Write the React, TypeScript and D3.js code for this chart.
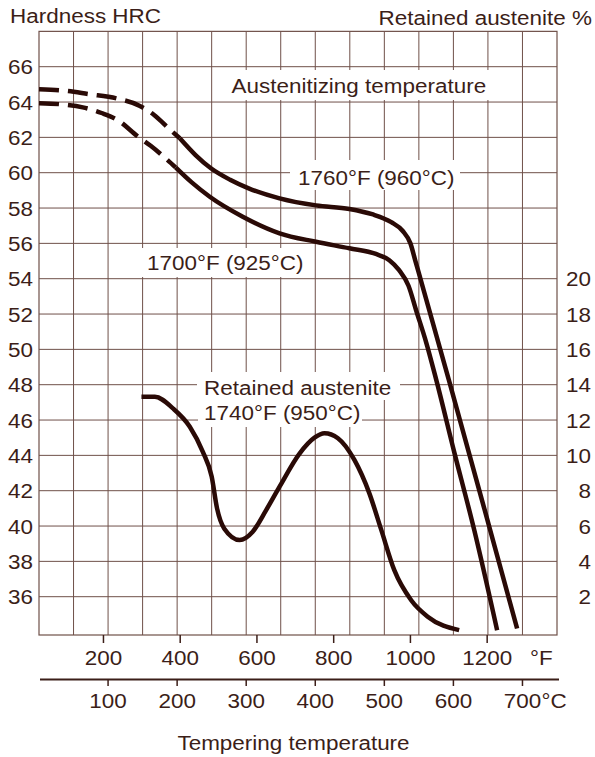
import React from "react";
import * as d3 from "d3";

// ---- data (°F, HRC) ----
const h1760Dashed: [number, number][] = [
  [32, 64.72], [108, 64.62], [160, 64.45], [235, 64.2], [295, 63.78], [332, 63.27], [373, 62.45], [399, 61.95],
];
const h1760Solid: [number, number][] = [
  [399, 61.95], [440, 61.0], [480, 60.25], [530, 59.6], [580, 59.1], [659, 58.55], [754, 58.15], [841, 57.95],
  [900, 57.65], [950, 57.2], [980, 56.7], [1000, 56.0], [1013, 55.0], [1028, 53.85], [1101, 48.2],
  [1210, 39.6], [1278, 34.2],
];
const h1700Dashed: [number, number][] = [
  [32, 63.93], [100, 63.85], [146, 63.7], [195, 63.38], [237, 62.98], [288, 62.08], [323, 61.52], [355, 60.95], [388, 60.3],
];
const h1700Solid: [number, number][] = [
  [388, 60.3], [430, 59.45], [477, 58.64], [563, 57.51], [659, 56.57], [754, 56.09], [841, 55.72], [910, 55.4],
  [945, 55.05], [970, 54.5], [995, 53.6], [1015, 52.2], [1041, 50.4], [1067, 48.3], [1114, 44.2], [1166, 39.8], [1226, 34.1],
];
// retained austenite (°F, %)
const ra1740: [number, number][] = [
  [299, 13.32], [334, 13.32], [381, 12.66], [425, 11.62], [459, 10.2], [482, 8.8], [496, 7.0], [515, 5.85],
  [555, 5.21], [589, 5.68], [624, 6.9], [659, 8.23], [711, 10.1], [750, 11.0], [776, 11.25], [811, 10.97],
  [854, 9.74], [893, 7.85], [924, 5.78], [958, 3.5], [1002, 1.8], [1045, 0.87], [1127, 0.11],
];

const hrcTicks = [36, 38, 40, 42, 44, 46, 48, 50, 52, 54, 56, 58, 60, 62, 64, 66];
const raTicks = [2, 4, 6, 8, 10, 12, 14, 16, 18, 20];
const fTicks = [200, 400, 600, 800, 1000, 1200];
const cTicks = [100, 200, 300, 400, 500, 600, 700];
const cGrid = [50, 100, 150, 200, 250, 300, 350, 400, 450, 500, 550, 600, 650, 700];

const TEXT = "#3b1e18";
const LINE = "#2a0a06";
const GRID = "#6f5049";
const FONT = "'Liberation Sans', Arial, sans-serif";
const FS = 21;
const SX = 1.07;

const c2f = (c: number) => c * 9 / 5 + 32;
const x = d3.scaleLinear().domain([32, c2f(750)]).range([39, 557]);
const y = d3.scaleLinear().domain([36, 66]).range([596.7, 66.7]);
const raToHrc = (r: number) => r + 34;
const top = y(68);
const bottom = 635;

const T = ({ px, py, anchor = "start", children }: any) => (
  <text
    transform={`translate(${px},${py}) scale(${SX},1)`}
    textAnchor={anchor}
    fontFamily={FONT}
    fontSize={FS}
    fill={TEXT}
  >
    {children}
  </text>
);

const line = d3
  .line<[number, number]>()
  .x((d) => x(d[0]))
  .y((d) => y(d[1]))
  .curve(d3.curveMonotoneX);
const raLine = d3
  .line<[number, number]>()
  .x((d) => x(d[0]))
  .y((d) => y(raToHrc(d[1])))
  .curve(d3.curveMonotoneX);

export default function App() {
  const boxes = [
    [224, 70, 492, 100],
    [290, 160, 460, 190],
    [139, 248, 311, 277],
    [197, 372, 400, 400],
    [198, 400, 362, 427],
  ];
  return (
    <svg width={595} height={757} style={{ position: "absolute", left: 0, top: 0, background: "#fff" }}>
      <rect x={0} y={0} width={595} height={757} fill="#fff" />
      {/* grid */}
      {hrcTicks.map((h) => (
        <line key={"h" + h} x1={x(32)} x2={x(c2f(750))} y1={y(h)} y2={y(h)} stroke={GRID} strokeWidth={1} />
      ))}
      {cGrid.map((c) => (
        <line key={"v" + c} x1={x(c2f(c))} x2={x(c2f(c))} y1={top} y2={bottom} stroke={GRID} strokeWidth={1} />
      ))}
      <rect x={x(32)} y={top} width={x(c2f(750)) - x(32)} height={bottom - top} fill="none" stroke={GRID} strokeWidth={1.2} />
      {/* label backgrounds */}
      {boxes.map((b, i) => (
        <rect key={"b" + i} x={b[0]} y={b[1]} width={b[2] - b[0]} height={b[3] - b[1]} fill="#fff" />
      ))}
      {/* axis labels */}
      {hrcTicks.map((h) => (
        <T key={"hl" + h} px={33} py={y(h) + 7.5} anchor="end">{h}</T>
      ))}
      {raTicks.map((r) => (
        <T key={"rl" + r} px={591} py={y(raToHrc(r)) + 7.5} anchor="end">{r}</T>
      ))}
      {fTicks.map((f) => (
        <g key={"f" + f}>
          <line x1={x(f)} x2={x(f)} y1={bottom} y2={bottom + 8} stroke={TEXT} strokeWidth={1.5} />
          <T px={x(f)} py={665} anchor="middle">{f}</T>
        </g>
      ))}
      <T px={530} py={665}>°F</T>
      <line x1={40} x2={559} y1={679.5} y2={679.5} stroke={TEXT} strokeWidth={1.8} />
      {cTicks.map((c) => (
        <g key={"c" + c}>
          <line x1={x(c2f(c))} x2={x(c2f(c))} y1={679.5} y2={686} stroke={TEXT} strokeWidth={1.5} />
          <T px={x(c2f(c))} py={708} anchor="middle">{c}</T>
        </g>
      ))}
      <T px={x(c2f(700)) + 19} py={708}>°C</T>
      <T px={293.5} py={750} anchor="middle">Tempering temperature</T>
      <T px={10} py={23}>Hardness HRC</T>
      <T px={592} py={25} anchor="end">Retained austenite %</T>
      <T px={231.5} py={93}>Austenitizing temperature</T>
      <T px={298} py={185}>1760°F (960°C)</T>
      <T px={147} py={270}>1700°F (925°C)</T>
      <T px={204} py={395}>Retained austenite</T>
      <T px={204} py={420}>1740°F (950°C)</T>
      {/* curves */}
      <path d={line(h1760Dashed) || ""} fill="none" stroke={LINE} strokeWidth={4.5} strokeDasharray="20 9" />
      <path d={line(h1700Dashed) || ""} fill="none" stroke={LINE} strokeWidth={4.5} strokeDasharray="20 9" />
      <path d={line(h1760Solid) || ""} fill="none" stroke={LINE} strokeWidth={4.5} />
      <path d={line(h1700Solid) || ""} fill="none" stroke={LINE} strokeWidth={4.5} />
      <path d={raLine(ra1740) || ""} fill="none" stroke={LINE} strokeWidth={4.5} />
    </svg>
  );
}
